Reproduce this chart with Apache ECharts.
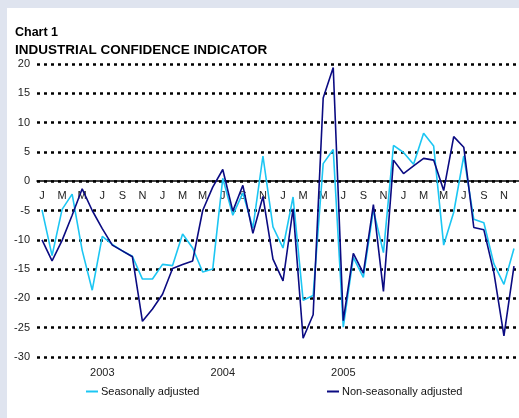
<!DOCTYPE html>
<html>
<head>
<meta charset="utf-8">
<script src="https://cdn.jsdelivr.net/npm/echarts@6/dist/echarts.min.js"></script>
<style>
html,body{margin:0;padding:0;background:#dde3ee;}
#chart{width:519px;height:418px;}
</style>
</head>
<body>
<div id="chart"></div>
<script>
var monthLetters = ['J','F','M','A','M','J','J','A','S','O','N','D'];
var years = ['2003','2004','2005','2006'];
var yearLabels = ['2003','2004','2005'];
var seasonallyAdjusted = [
  -4.9, -12.7, -4.8, -2.2, -11.8, -18.6, -9.4, -10.8, -11.9, -12.8, -16.7, -16.7,
  -14.2, -14.4, -9.0, -11.4, -15.5, -15.0, 0.5, -5.8, -2.0, -8.0, 4.3, -7.8,
  -11.4, -2.7, -20.3, -19.5, 3.0, 5.4, -24.9, -13.0, -16.4, -4.9, -12.2, 6.1,
  4.9, 2.9, 8.2, 6.0, -10.9, -5.3, 4.3, -6.5, -7.1, -14.1, -17.6, -11.5
];
var nonSeasonallyAdjusted = [
  -10.0, -13.6, -10.1, -5.8, -1.3, -5.0, -8.1, -10.9, -11.9, -12.9, -23.9, -21.8,
  -19.3, -14.9, -14.2, -13.6, -5.0, -1.0, 2.0, -5.1, -0.7, -8.9, -2.6, -13.3,
  -17.0, -4.7, -26.8, -22.8, 14.2, 19.4, -23.8, -12.3, -15.7, -4.0, -18.8, 3.6,
  1.3, 2.6, 3.9, 3.6, -1.6, 7.6, 5.8, -7.9, -8.3, -15.6, -26.4, -14.5
];
var yMin = -30, yMax = 20, yStep = 5;

var months = [];
var yearAxis = [];
years.forEach(function (y) {
  monthLetters.forEach(function (m, i) {
    months.push(m);
    yearAxis.push(i === 6 && yearLabels.indexOf(y) >= 0 ? y : '');
  });
});

var gridTop = 64, gridBottom = 61, H = 418;
var gridHeight = H - gridTop - gridBottom;
var zeroOffset = -gridHeight * (0 - yMin) / (yMax - yMin);

var chart = echarts.init(document.getElementById('chart'), null, {renderer: 'canvas'});
var font = 'Liberation Sans, Arial, sans-serif';
chart.setOption({
  backgroundColor: '#dfe4ef',
  animation: false,
  graphic: [
    {type: 'rect', left: 7, top: 8, shape: {width: 520, height: 420}, style: {fill: '#ffffff'}, z: -10},
    {type: 'text', left: 15, top: 26, style: {text: 'Chart 1', font: 'bold 12.5px ' + font, fill: '#000'}},
    {type: 'text', left: 15, top: 43, style: {text: 'INDUSTRIAL CONFIDENCE INDICATOR', font: 'bold 13.5px ' + font, fill: '#000'}}
  ],
  grid: {left: 37, right: -7.6, top: gridTop, bottom: gridBottom, containLabel: false},
  legend: [
    {data: ['Seasonally adjusted'], left: 86, top: 386, padding: 0, icon: 'rect', itemWidth: 12, itemHeight: 2, itemGap: 0,
     textStyle: {fontSize: 11, fontFamily: font, color: '#111', padding: [0, 0, 0, -2]}},
    {data: ['Non-seasonally adjusted'], left: 327, top: 386, padding: 0, icon: 'rect', itemWidth: 12, itemHeight: 2, itemGap: 0,
     textStyle: {fontSize: 11, fontFamily: font, color: '#111', padding: [0, 0, 0, -2]}}
  ],
  xAxis: [
    {
      type: 'category', data: months, boundaryGap: true, position: 'bottom', offset: zeroOffset,
      axisLine: {show: true, onZero: false, lineStyle: {color: '#000', width: 1.5}},
      axisTick: {show: false},
      axisLabel: {interval: 1, margin: 9, fontSize: 11, fontFamily: font, color: '#222'},
      splitLine: {show: false}
    },
    {
      type: 'category', data: yearAxis, boundaryGap: true, position: 'bottom',
      axisLine: {show: false, onZero: false},
      axisTick: {show: false},
      axisLabel: {interval: 0, margin: 10, fontSize: 11, fontFamily: font, color: '#222'},
      splitLine: {show: false}
    }
  ],
  yAxis: {
    type: 'value', min: yMin, max: yMax, interval: yStep,
    axisLine: {show: false}, axisTick: {show: false},
    axisLabel: {margin: 7, fontSize: 11, fontFamily: font, color: '#222'},
    splitLine: {show: true, lineStyle: {color: '#000', width: 2.6, type: [3, 4]}}
  },
  series: [
    {
      name: 'Seasonally adjusted', type: 'line', data: seasonallyAdjusted, xAxisIndex: 0,
      symbol: 'none', lineStyle: {color: '#1cc6f3', width: 1.6}, itemStyle: {color: '#1cc6f3'}, z: 3
    },
    {
      name: 'Non-seasonally adjusted', type: 'line', data: nonSeasonallyAdjusted, xAxisIndex: 0,
      symbol: 'none', lineStyle: {color: '#0b0b82', width: 1.6}, itemStyle: {color: '#0b0b82'}, z: 4
    }
  ]
});
</script>
</body>
</html>
